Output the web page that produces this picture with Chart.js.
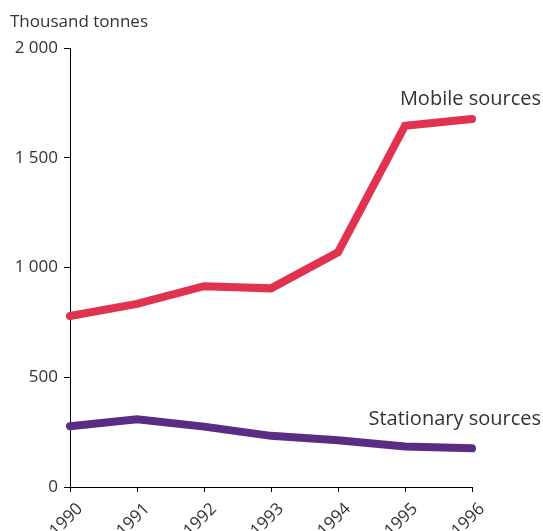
<!DOCTYPE html>
<html>
<head>
<meta charset="utf-8">
<script src="https://cdn.jsdelivr.net/npm/chart.js"></script>
<style>
  html, body { margin: 0; padding: 0; background: #fff; }
  #wrap { width: 543px; height: 531px; position: relative; }
</style>
</head>
<body>
<div id="wrap"><canvas id="chart"></canvas></div>
<script>
// data
const years = ["1990", "1991", "1992", "1993", "1994", "1995", "1996"];
const mobileSources = [779, 834, 915, 905, 1069, 1646, 1677];
const stationarySources = [277, 309, 275, 233, 213, 185, 176];
const yTicks = [0, 500, 1000, 1500, 2000];
const unitLabel = "Thousand tonnes";
const seriesNames = ["Mobile sources", "Stationary sources"];

const fontFamily = "'Open Sans', 'Noto Sans', sans-serif";
const textColor = "#333333";

// 千位用空格分隔
function formatTick(v) {
  return String(v).replace(/\B(?=(\d{3})+(?!\d))/g, " ");
}

// 標題與系列標籤
const labelPlugin = {
  id: "labels",
  afterDraw(chart) {
    const ctx = chart.ctx;
    const x = chart.scales.x;
    const y = chart.scales.y;
    ctx.save();
    ctx.fillStyle = textColor;
    ctx.font = "17px " + fontFamily;
    ctx.textAlign = "left";
    ctx.textBaseline = "middle";
    ctx.fillText(unitLabel, 10, 22);

    ctx.font = "20px " + fontFamily;
    ctx.textAlign = "right";
    const last = years.length - 1;
    const xr = x.getPixelForValue(last) + 69;
    ctx.fillText(seriesNames[0], xr, y.getPixelForValue(mobileSources[last]) - 20);
    ctx.fillText(seriesNames[1], xr, y.getPixelForValue(stationarySources[last]) - 29);
    ctx.restore();
  }
};

new Chart(document.getElementById("chart"), {
  type: "line",
  data: {
    labels: years,
    datasets: [
      {
        label: seriesNames[0],
        data: mobileSources,
        borderColor: "#e1324f",
        borderWidth: 8,
        borderCapStyle: "round",
        borderJoinStyle: "miter",
        pointRadius: 0,
        tension: 0,
        fill: false
      },
      {
        label: seriesNames[1],
        data: stationarySources,
        borderColor: "#5a2d82",
        borderWidth: 8,
        borderCapStyle: "round",
        borderJoinStyle: "miter",
        pointRadius: 0,
        tension: 0,
        fill: false
      }
    ]
  },
  options: {
    responsive: true,
    maintainAspectRatio: false,
    animation: false,
    layout: { padding: { top: 48, right: 71, left: 0, bottom: 0 } },
    plugins: {
      legend: { display: false },
      tooltip: { enabled: false }
    },
    scales: {
      x: {
        offset: false,
        grid: { drawOnChartArea: false, color: "#000", tickLength: 5, lineWidth: 1 },
        border: { color: "#000", width: 1 },
        ticks: {
          color: textColor,
          font: { family: fontFamily, size: 17 },
          maxRotation: 45,
          minRotation: 45,
          padding: 7,
          labelOffset: 10
        },
        afterFit(scale) { scale.height = 44; }
      },
      y: {
        min: 0,
        max: 2000,
        afterBuildTicks(scale) { scale.ticks = yTicks.map(v => ({ value: v })); },
        grid: { drawOnChartArea: false, color: "#000", tickLength: 6, lineWidth: 1 },
        border: { color: "#000", width: 1 },
        ticks: {
          color: textColor,
          font: { family: fontFamily, size: 17 },
          padding: 6,
          callback: v => formatTick(v)
        },
        afterFit(scale) { scale.width = 70; }
      }
    }
  },
  plugins: [labelPlugin]
});
</script>
</body>
</html>
